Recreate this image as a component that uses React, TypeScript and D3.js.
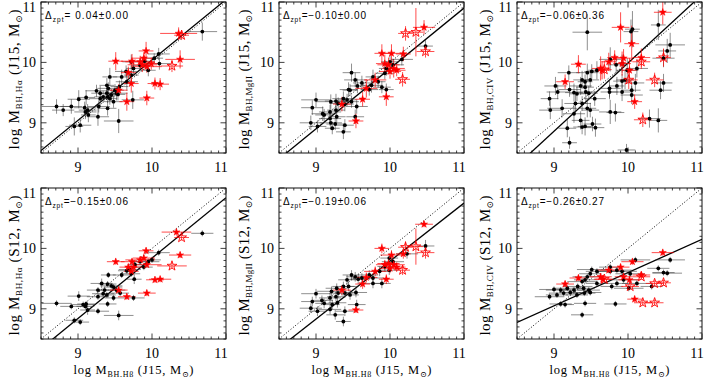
import React from "react";
import * as d3 from "d3";

// [x, y, xerr, yerr]  (log M_BH, Hbeta J15 on x)
const p1Black = [
  [10.68,10.51,0.2,0.15],[10.09,10.14,0.15,0.1],[10.03,10.07,0.12,0.08],[10.1,9.98,0.15,0.1],
  [9.95,9.87,0.1,0.1],[9.72,10.01,0.12,0.12],[9.75,9.9,0.1,0.1],[9.65,9.85,0.15,0.1],
  [9.72,9.79,0.1,0.15],[9.59,9.76,0.12,0.12],[9.66,9.68,0.15,0.15],[9.43,9.76,0.1,0.15],
  [9.39,9.62,0.1,0.12],[9.41,9.57,0.15,0.1],[9.25,9.53,0.15,0.1],[9.3,9.49,0.12,0.12],
  [9.39,9.49,0.1,0.1],[9.5,9.54,0.12,0.1],[9.52,9.49,0.15,0.12],[9.45,9.46,0.1,0.1],
  [9.34,9.43,0.12,0.1],[9.3,9.4,0.15,0.12],[9.4,9.43,0.1,0.1],[9.43,9.4,0.1,0.1],
  [9.48,9.35,0.12,0.1],[9.54,9.47,0.1,0.1],[9.74,9.38,0.15,0.15],[9.4,9.24,0.12,0.12],
  [9.28,9.27,0.15,0.1],[9.09,9.25,0.15,0.1],[9.01,9.39,0.15,0.15],[9.11,9.42,0.12,0.12],
  [8.71,9.27,0.2,0.12],[8.8,9.21,0.15,0.1],[8.91,9.27,0.15,0.12],[9.1,9.18,0.15,0.12],
  [9.13,9.21,0.12,0.1],[9.14,9.13,0.1,0.12],[9.27,9.1,0.15,0.15],[9.55,9.03,0.2,0.2],
  [8.95,8.94,0.12,0.15],[9.03,8.96,0.15,0.12],[9.84,9.95,0.12,0.1],[9.9,10.02,0.1,0.08],
  [9.56,9.6,0.12,0.1],
];
// [x, y, xerr, yerr, open]
const p1Red = [
  [10.36,10.48,0.25,0.1,0],[10.4,10.45,0.1,0.08,1],[10.27,9.94,0.15,0.1,1],[10.38,10.05,0.2,0.15,0],
  [9.92,10.19,0.1,0.15,0],[9.51,10.02,0.1,0.15,0],[9.73,10.02,0.15,0.12,0],[9.84,10.01,0.2,0.1,0],
  [9.89,10.07,0.15,0.1,0],[9.87,9.96,0.2,0.12,0],[9.93,9.93,0.2,0.1,0],[9.99,9.98,0.1,0.1,0],
  [9.68,9.83,0.1,0.1,0],[9.72,9.65,0.1,0.15,0],[10.04,9.65,0.1,0.1,0],[10.11,9.64,0.12,0.1,0],
  [9.55,9.54,0.12,0.1,0],[9.66,9.35,0.1,0.15,0],[9.93,9.41,0.1,0.12,0],
];

const p2Black = [
  [10.48,10.27,0.1,0.1],[10.16,10.05,0.15,0.1],[10.0,10.01,0.12,0.1],[10.04,9.96,0.15,0.1],
  [9.95,9.9,0.1,0.12],[9.93,9.82,0.12,0.1],[9.77,9.76,0.1,0.12],[9.84,9.68,0.1,0.1],
  [9.89,9.59,0.12,0.1],[9.95,9.55,0.1,0.1],[9.75,9.62,0.15,0.12],[9.72,9.55,0.12,0.1],
  [9.62,9.66,0.12,0.12],[9.48,9.83,0.12,0.15],[9.53,9.71,0.15,0.12],[9.44,9.55,0.12,0.12],
  [9.46,9.54,0.1,0.1],[9.56,9.61,0.1,0.12],[9.37,9.4,0.15,0.12],[9.42,9.38,0.12,0.1],
  [9.27,9.36,0.15,0.12],[9.2,9.35,0.2,0.12],[9.3,9.32,0.12,0.1],[9.39,9.31,0.12,0.12],
  [9.48,9.35,0.1,0.1],[9.55,9.27,0.15,0.12],[9.0,9.38,0.2,0.12],[8.95,9.25,0.15,0.12],
  [9.09,9.15,0.15,0.12],[9.11,9.13,0.12,0.1],[9.19,9.18,0.15,0.12],[9.27,9.21,0.12,0.12],
  [9.28,9.1,0.12,0.1],[8.93,9.0,0.15,0.12],[9.02,8.94,0.12,0.1],[9.2,9.0,0.15,0.12],
  [9.26,8.98,0.12,0.1],[9.39,8.96,0.12,0.1],[9.37,8.85,0.1,0.12],[9.22,8.91,0.1,0.1],
  [9.53,9.1,0.12,0.12],[9.19,9.07,0.15,0.12],
];
const p2Red = [
  [10.46,10.58,0.15,0.12,0],[10.21,10.48,0.1,0.12,1],[10.35,10.5,0.1,0.4,1],[10.48,10.18,0.12,0.1,1],
  [9.89,10.15,0.1,0.15,0],[10.02,10.15,0.12,0.15,0],[10.18,10.14,0.1,0.12,0],[9.93,9.98,0.12,0.15,0],
  [9.98,9.96,0.15,0.12,0],[10.05,9.9,0.15,0.15,0],[10.09,9.87,0.12,0.1,0],[10.0,9.85,0.15,0.12,0],
  [10.17,9.72,0.1,0.12,1],[9.8,9.71,0.15,0.12,0],[9.68,9.57,0.15,0.15,0],[9.63,9.39,0.1,0.12,0],
  [9.95,9.43,0.1,0.15,0],[9.35,9.31,0.12,0.12,0],[9.54,9.03,0.1,0.12,0],
];

const p3Black = [
  [9.45,10.5,0.2,0.3],[10.06,10.55,0.1,0.3],[10.04,10.51,0.1,0.2],[10.41,10.62,0.1,0.25],
  [10.57,10.29,0.2,0.2],[10.53,10.19,0.12,0.2],[10.48,10.07,0.15,0.15],[10.12,9.9,0.15,0.15],
  [9.76,10.05,0.15,0.2],[9.84,9.96,0.12,0.15],[9.92,9.98,0.1,0.15],[9.99,9.87,0.15,0.2],
  [9.96,9.71,0.12,0.15],[9.58,9.87,0.12,0.15],[9.51,9.85,0.1,0.12],[9.45,9.83,0.15,0.15],
  [9.38,9.71,0.12,0.15],[9.42,9.68,0.1,0.12],[9.49,9.71,0.12,0.12],[9.2,9.83,0.15,0.12],
  [9.36,9.61,0.15,0.15],[9.42,9.59,0.12,0.12],[9.21,9.55,0.15,0.12],[9.27,9.5,0.12,0.15],
  [9.31,9.48,0.1,0.12],[9.43,9.51,0.15,0.15],[9.47,9.49,0.12,0.12],[9.02,9.61,0.15,0.15],
  [9.05,9.51,0.15,0.12],[8.94,9.4,0.12,0.12],[8.95,9.21,0.15,0.15],[9.11,9.24,0.2,0.15],
  [9.29,9.32,0.15,0.15],[9.38,9.32,0.12,0.12],[9.55,9.4,0.15,0.12],[9.45,9.24,0.12,0.15],
  [9.49,9.21,0.12,0.12],[9.27,9.15,0.15,0.15],[9.36,9.04,0.12,0.15],[9.18,8.91,0.12,0.15],
  [9.38,8.93,0.12,0.12],[9.42,8.94,0.1,0.15],[9.52,8.98,0.12,0.12],[9.56,8.92,0.12,0.15],
  [9.21,8.67,0.1,0.1],[9.76,9.18,0.15,0.2],[9.83,9.17,0.12,0.15],[9.75,9.57,0.15,0.15],
  [9.75,9.51,0.12,0.12],[9.85,9.61,0.1,0.15],[9.92,9.51,0.15,0.15],[9.98,8.55,0.12,0.1],
  [10.1,9.66,0.12,0.15],[10.05,9.54,0.12,0.12],[10.05,9.46,0.15,0.15],[10.44,9.54,0.15,0.15],
  [10.48,9.66,0.12,0.15],[10.29,9.07,0.15,0.15],[10.41,9.04,0.12,0.2],[9.92,9.69,0.12,0.12],
];
const p3Red = [
  [10.47,10.83,0.12,0.2,0],[9.9,10.58,0.12,0.25,0],[10.05,10.31,0.1,0.3,0],[9.33,9.97,0.1,0.15,0],
  [9.15,9.68,0.12,0.12,0],[9.63,9.9,0.12,0.2,0],[9.65,9.87,0.1,0.15,0],[9.74,10.01,0.1,0.15,0],
  [9.92,9.98,0.12,0.2,0],[9.94,10.07,0.1,0.15,0],[9.82,10.08,0.1,0.12,0],[10.02,9.87,0.1,0.2,0],
  [10.18,10.08,0.12,0.15,0],[10.18,10.01,0.12,0.12,1],[10.01,9.71,0.12,0.15,1],[10.36,9.71,0.12,0.12,1],
  [10.48,10.08,0.1,0.15,1],[10.09,9.35,0.1,0.12,0],[10.2,9.05,0.12,0.12,1],[9.68,9.88,0.1,0.15,1],
];

const p4Black = [
  [10.68,10.25,0.15,0.05],[10.09,9.93,0.15,0.05],[10.0,9.81,0.12,0.05],[9.95,9.78,0.15,0.05],
  [9.84,9.78,0.12,0.05],[9.89,9.69,0.12,0.05],[9.77,9.73,0.1,0.05],[9.7,9.65,0.15,0.05],
  [9.66,9.63,0.12,0.05],[9.72,9.58,0.12,0.05],[9.76,9.49,0.1,0.08],[9.59,9.56,0.12,0.05],
  [9.41,9.56,0.1,0.05],[9.32,9.42,0.15,0.08],[9.4,9.41,0.12,0.05],[9.45,9.38,0.15,0.05],
  [9.48,9.36,0.12,0.05],[9.52,9.31,0.12,0.05],[9.36,9.31,0.12,0.05],[9.27,9.31,0.15,0.05],
  [9.34,9.25,0.15,0.05],[9.39,9.23,0.12,0.05],[9.27,9.2,0.15,0.05],[9.48,9.18,0.12,0.05],
  [9.57,9.26,0.12,0.05],[9.75,9.18,0.15,0.05],[9.01,9.21,0.15,0.08],[8.71,9.09,0.2,0.05],
  [8.91,9.04,0.15,0.05],[9.07,9.07,0.15,0.05],[9.11,9.08,0.12,0.05],[9.13,8.98,0.1,0.08],
  [9.27,8.96,0.15,0.05],[9.4,9.08,0.12,0.05],[9.55,8.89,0.2,0.08],[8.95,8.81,0.12,0.05],
  [9.03,8.78,0.12,0.05],[9.1,9.04,0.12,0.05],
];
const p4Red = [
  [10.33,10.27,0.2,0.05,0],[10.4,10.18,0.1,0.05,1],[10.38,9.89,0.15,0.05,0],[10.27,9.71,0.2,0.05,1],
  [9.92,9.96,0.1,0.05,0],[9.51,9.78,0.12,0.05,0],[9.73,9.78,0.15,0.05,0],[9.84,9.81,0.2,0.05,0],
  [9.89,9.84,0.15,0.05,0],[9.93,9.73,0.2,0.05,0],[9.68,9.69,0.12,0.05,0],[9.72,9.62,0.1,0.05,0],
  [9.75,9.69,0.12,0.05,0],[10.04,9.48,0.12,0.05,0],[10.11,9.49,0.15,0.05,0],[9.55,9.31,0.12,0.05,0],
  [9.66,9.2,0.12,0.05,0],[9.93,9.26,0.12,0.05,0],
];

const p5Black = [
  [10.48,10.04,0.12,0.1],[10.23,9.91,0.15,0.08],[9.99,9.84,0.12,0.08],[10.04,9.78,0.15,0.08],
  [9.93,9.7,0.1,0.08],[9.86,9.62,0.12,0.08],[9.99,9.64,0.12,0.08],[9.77,9.51,0.15,0.08],
  [9.72,9.56,0.12,0.08],[9.77,9.42,0.12,0.08],[9.89,9.42,0.12,0.08],[9.62,9.51,0.15,0.08],
  [9.53,9.53,0.12,0.08],[9.48,9.56,0.12,0.08],[9.57,9.49,0.12,0.08],[9.42,9.48,0.12,0.08],
  [9.37,9.37,0.15,0.08],[9.44,9.37,0.12,0.08],[9.28,9.34,0.15,0.08],[9.21,9.29,0.2,0.08],
  [9.3,9.26,0.12,0.08],[9.39,9.26,0.12,0.08],[9.46,9.23,0.12,0.08],[9.54,9.27,0.15,0.08],
  [9.0,9.25,0.2,0.08],[8.95,9.12,0.15,0.08],[9.08,9.14,0.15,0.08],[9.11,9.09,0.12,0.08],
  [9.19,9.18,0.15,0.08],[9.27,9.2,0.12,0.08],[9.29,9.1,0.12,0.08],[8.93,9.01,0.15,0.08],
  [9.02,8.96,0.12,0.08],[9.19,8.99,0.15,0.08],[9.26,8.9,0.12,0.08],[9.39,8.96,0.12,0.08],
  [9.37,8.79,0.1,0.08],[9.22,9.07,0.1,0.08],[9.55,9.07,0.12,0.08],
];
const p5Red = [
  [10.46,10.4,0.12,0.05,0],[10.21,10.02,0.1,0.1,1],[10.35,10.03,0.1,0.3,1],[10.48,9.93,0.12,0.1,1],
  [9.89,10.0,0.1,0.08,0],[10.02,9.89,0.15,0.08,0],[10.18,9.91,0.1,0.08,0],[9.93,9.73,0.12,0.08,0],
  [9.98,9.75,0.15,0.08,0],[10.05,9.73,0.15,0.08,0],[10.09,9.69,0.12,0.08,0],[10.0,9.67,0.15,0.08,0],
  [10.17,9.64,0.1,0.08,1],[9.8,9.62,0.15,0.08,0],[9.63,9.41,0.1,0.08,0],[9.95,9.49,0.1,0.08,0],
  [9.68,9.52,0.15,0.08,0],[9.35,9.31,0.12,0.08,0],[9.54,8.98,0.1,0.05,0],
];

const p6Black = [
  [10.57,9.81,0.2,0.05],[10.53,9.59,0.2,0.05],[10.48,9.6,0.15,0.05],[10.41,9.67,0.15,0.05],
  [10.1,9.81,0.2,0.05],[10.03,9.58,0.2,0.05],[9.92,9.62,0.2,0.05],[9.85,9.64,0.2,0.05],
  [9.76,9.62,0.2,0.05],[9.76,9.69,0.15,0.05],[9.94,9.48,0.2,0.05],[9.85,9.42,0.15,0.05],
  [9.78,9.37,0.15,0.05],[10.01,9.34,0.2,0.05],[10.32,9.37,0.15,0.05],[10.12,9.42,0.2,0.05],
  [9.58,9.62,0.15,0.05],[9.51,9.65,0.2,0.05],[9.49,9.58,0.15,0.05],[9.45,9.53,0.2,0.05],
  [9.42,9.48,0.15,0.05],[9.38,9.45,0.2,0.05],[9.32,9.37,0.2,0.05],[9.4,9.34,0.15,0.05],
  [9.47,9.31,0.15,0.05],[9.27,9.31,0.2,0.05],[9.18,9.34,0.2,0.05],[9.09,9.31,0.2,0.05],
  [9.0,9.32,0.2,0.05],[9.13,9.26,0.2,0.05],[9.22,9.27,0.15,0.05],[9.31,9.23,0.15,0.05],
  [9.41,9.26,0.15,0.05],[9.49,9.27,0.15,0.05],[8.94,9.2,0.2,0.05],[9.04,9.23,0.15,0.05],
  [9.09,9.08,0.15,0.05],[9.15,9.07,0.12,0.05],[9.42,9.09,0.15,0.05],[9.38,8.9,0.15,0.05],
  [9.83,9.08,0.15,0.05],[9.58,9.42,0.15,0.05],
];
const p6Red = [
  [10.47,9.93,0.15,0.05,0],[10.06,9.78,0.15,0.05,0],[9.9,9.69,0.12,0.05,0],[9.74,9.64,0.15,0.05,0],
  [9.33,9.51,0.12,0.05,0],[9.15,9.41,0.12,0.05,0],[9.63,9.53,0.15,0.05,0],[9.66,9.49,0.12,0.05,0],
  [9.94,9.53,0.12,0.05,0],[10.02,9.48,0.15,0.05,0],[10.18,9.56,0.12,0.05,0],[10.18,9.53,0.12,0.05,1],
  [10.03,9.37,0.12,0.05,1],[10.36,9.42,0.12,0.05,1],[10.48,9.43,0.1,0.05,1],[10.09,9.16,0.1,0.05,0],
  [10.2,9.1,0.12,0.05,1],[10.36,9.1,0.12,0.05,1],[9.68,9.49,0.12,0.05,1],
];

// best-fit lines [slope, intercept]
const fits = [[1.0, 0.04], [1.0, -0.1], [1.13, -1.31], [1.0, -0.16], [0.96, 0.19], [0.55, 4.1]];
const deltas = ["= 0.04\u00b10.00", "=\u22120.10\u00b10.00", "=\u22120.06\u00b10.36", "=\u22120.15\u00b10.06", "=\u22120.19\u00b10.06", "=\u22120.26\u00b10.27"];
const lineSubs = ["BH,H\u03b1", "BH,MgII", "BH,CIV", "BH,H\u03b1", "BH,MgII", "BH,CIV"];
const refs = ["J15", "J15", "J15", "S12", "S12", "S12"];
const domain = [8.5, 11];
const majorTicks = [9, 10, 11];

const W = 185, H = 151;
const layout = [
  { left: 41, top: 2, lab: 22 }, { left: 279, top: 2, lab: 30 }, { left: 517, top: 2, lab: 27 },
  { left: 41, top: 188, lab: 22 }, { left: 279, top: 188, lab: 30 }, { left: 517, top: 188, lab: 27 },
];
const blacks = [p1Black, p2Black, p3Black, p4Black, p5Black, p6Black];
const reds = [p1Red, p2Red, p3Red, p4Red, p5Red, p6Red];

const serif = "'Liberation Serif', 'DejaVu Serif', serif";
const sans = "'Liberation Sans', Arial, sans-serif";

function Panel({ i }: { i: number }) {
  const { left, top, lab } = layout[i];
  const x = d3.scaleLinear().domain(domain).range([0, W]);
  const y = d3.scaleLinear().domain(domain).range([H, 0]);
  const minor = x.ticks(25);
  const [m, b] = fits[i];
  const fitLine = d3.line<number>().x((v) => x(v)).y((v) => y(m * v + b));
  const oneToOne = d3.line<number>().x((v) => x(v)).y((v) => y(v));
  const filledStar = d3.symbol().type(d3.symbolStar).size(16)();
  const openStar = d3.symbol().type(d3.symbolStar).size(30)();
  const clipId = `clip${i}`;
  const bottomRow = i >= 3;
  return (
    <g transform={`translate(${left},${top})`}>
      <defs>
        <clipPath id={clipId}><rect x={0} y={0} width={W} height={H} /></clipPath>
      </defs>
      <g clipPath={`url(#${clipId})`}>
        <path d={oneToOne(domain) || ""} stroke="#000" strokeWidth={1} strokeDasharray="1,2" fill="none" />
        <path d={fitLine(domain) || ""} stroke="#000" strokeWidth={1.3} fill="none" />
        {blacks[i].map((d, k) => (
          <g key={"be" + k} stroke="#333" strokeOpacity={0.55} strokeWidth={1}>
            <line x1={x(d[0] - d[2])} x2={x(d[0] + d[2])} y1={y(d[1])} y2={y(d[1])} />
            <line x1={x(d[0])} x2={x(d[0])} y1={y(d[1] - d[3])} y2={y(d[1] + d[3])} />
          </g>
        ))}
        {reds[i].map((d, k) => (
          <g key={"re" + k} stroke="#f00" strokeOpacity={0.7} strokeWidth={1}>
            <line x1={x(d[0] - d[2])} x2={x(d[0] + d[2])} y1={y(d[1])} y2={y(d[1])} />
            <line x1={x(d[0])} x2={x(d[0])} y1={y(d[1] - d[3])} y2={y(d[1] + d[3])} />
          </g>
        ))}
        {blacks[i].map((d, k) => (
          <circle key={"b" + k} cx={x(d[0])} cy={y(d[1])} r={1.9} fill="#000" />
        ))}
        {reds[i].map((d, k) => (
          <path key={"r" + k} transform={`translate(${x(d[0])},${y(d[1])})`}
            d={(d[4] ? openStar : filledStar) || ""}
            fill={d[4] ? "none" : "#f00"} stroke="#f00" strokeWidth={d[4] ? 0.9 : 0.5} />
        ))}
      </g>
      <rect x={0} y={0} width={W} height={H} fill="none" stroke="#111" strokeWidth={1} />
      {minor.map((t) => {
        const major = majorTicks.includes(Math.round(t * 10) / 10);
        const L = major ? 5.5 : 2.5;
        return (
          <g key={"t" + t} stroke="#111" strokeWidth={0.8}>
            <line x1={x(t)} x2={x(t)} y1={H} y2={H - L} />
            <line x1={x(t)} x2={x(t)} y1={0} y2={L} />
            <line x1={0} x2={L} y1={y(t)} y2={y(t)} />
            <line x1={W} x2={W - L} y1={y(t)} y2={y(t)} />
          </g>
        );
      })}
      {majorTicks.map((t) => (
        <g key={"l" + t} fontFamily={serif} fontSize={14} fill="#000">
          <text x={Math.min(x(t), W - 5)} y={H + 19} textAnchor="middle">{t}</text>
          <text x={-5} y={Math.max(y(t) + 5, 10)} textAnchor="end">{t}</text>
        </g>
      ))}
      <text x={4} y={17} fontFamily={sans} fontSize={10} textLength={83} lengthAdjust="spacing">
        {"\u0394"}<tspan fontSize={6.5} dy={2.5}>zpt</tspan><tspan dy={-2.5}>{deltas[i]}</tspan>
      </text>
      <text transform={`translate(${-lab},${H / 2 + 2}) rotate(-90)`} textAnchor="middle"
        fontFamily={serif} fontSize={15} textLength={140} lengthAdjust="spacing">
        log M<tspan fontSize={9} dy={3}>{lineSubs[i]}</tspan>
        <tspan dy={-3}> ({refs[i]}, M</tspan><tspan fontSize={9} dy={3}>{"\u2299"}</tspan><tspan dy={-3}>)</tspan>
      </text>
      {bottomRow && (
        <text x={W / 2} y={H + 35} textAnchor="middle" fontFamily={serif} fontSize={12.5}
          textLength={120} lengthAdjust="spacing">
          log M<tspan fontSize={8} dy={2.5}>{"BH,H\u03b2"}</tspan>
          <tspan dy={-2.5}> (J15, M</tspan><tspan fontSize={8} dy={2.5}>{"\u2299"}</tspan><tspan dy={-2.5}>)</tspan>
        </text>
      )}
    </g>
  );
}

export default function App() {
  return (
    <svg width={707} height={377} style={{ position: "absolute", left: 0, top: 0, background: "#fff" }}>
      {layout.map((_, i) => <Panel key={i} i={i} />)}
    </svg>
  );
}
